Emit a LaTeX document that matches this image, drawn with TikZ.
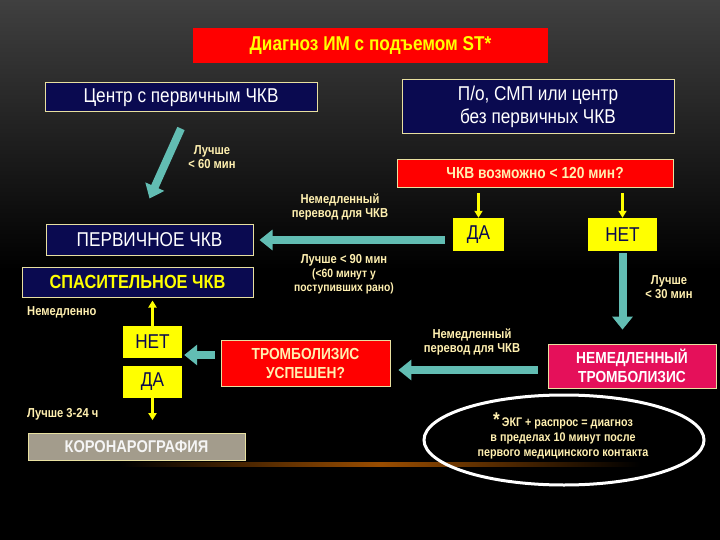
\documentclass[tikz,border=0pt]{standalone}
\usepackage{fontspec}
\setmainfont[FakeStretch=0.86]{Liberation Sans}
\usetikzlibrary{arrows.meta,shapes.geometric}
\definecolor{navy}{HTML}{0A0A50}
\definecolor{bord}{HTML}{E8E0A0}
\definecolor{tealc}{HTML}{62BDB3}
\definecolor{ylw}{HTML}{FFFF00}
\definecolor{redc}{HTML}{FF0000}
\definecolor{crim}{HTML}{E5105A}
\definecolor{cream}{HTML}{FFF0B0}
\definecolor{kcol}{HTML}{A39C8C}
\tikzset{
 bluebox/.style={draw=bord,line width=1pt,fill=navy,text=white,font=\fontsize{20}{23}\selectfont,align=center,inner sep=0pt},
 redbox/.style={draw=bord,line width=0.8pt,fill=redc,font=\bfseries\fontsize{16}{19}\selectfont,text=cream,align=center,inner sep=0pt},
 ybox/.style={fill=ylw,text=navy,font=\fontsize{20}{22}\selectfont,inner sep=0pt},
 lbl/.style={text=cream,font=\bfseries\fontsize{13}{14}\selectfont,align=center,inner sep=0pt},
 tarrow/.style={tealc,line width=8pt,-{Triangle[width=20pt,length=13pt]}},
 yarrow/.style={ylw,line width=2.5pt,-{Triangle[width=8pt,length=7pt]}},
}
\begin{document}
\begin{tikzpicture}[x=1pt,y=-1pt]
\shade[top color=black!75,bottom color=black,middle color=black] (0,0) rectangle (720,540);
\useasboundingbox (0,0) rectangle (720,540);
\shade[left color=black,right color=black,middle color=orange!60!black] (120,462) rectangle (640,466);
% title
\node[fill=redc,text=ylw,font=\bfseries\fontsize{20}{22}\selectfont,minimum width=355pt,minimum height=35pt,inner sep=0pt] (title) at (370.5,45.5) {Диагноз ИМ с подъемом ST*};
\node[bluebox,minimum width=272pt,minimum height=29pt] (c1) at (181,97.5) {Центр с первичным ЧКВ};
\node[bluebox,minimum width=272pt,minimum height=54pt] (c2) at (538,107) {П/о, СМП или центр\\без  первичных ЧКВ};
\node[redbox,minimum width=276pt,minimum height=28pt] (q) at (535,173) {ЧКВ возможно < 120 мин?};
\node[ybox,minimum width=51pt,minimum height=33pt] (da1) at (478.5,234.5) {ДА};
\node[ybox,minimum width=69pt,minimum height=33pt] (net1) at (622.5,234.5) {НЕТ};
\node[bluebox,minimum width=207pt,minimum height=30pt] (pci) at (149.5,240) {ПЕРВИЧНОЕ ЧКВ};
\node[bluebox,minimum width=231pt,minimum height=30pt,text=ylw,font=\bfseries\fontsize{19}{21}\selectfont] (spas) at (137.5,282) {СПАСИТЕЛЬНОЕ ЧКВ};
\node[ybox,minimum width=59pt,minimum height=32pt] (net2) at (152.5,342) {НЕТ};
\node[ybox,minimum width=59pt,minimum height=32pt] (da2) at (152.5,382) {ДА};
\node[draw=bord,line width=1pt,fill=kcol,text=white!92!gray,font=\bfseries\fontsize{17}{19}\selectfont,minimum width=217pt,minimum height=27pt,inner sep=0pt] (kor) at (136.5,446.5) {КОРОНАРОГРАФИЯ};
\node[redbox,minimum width=169pt,minimum height=46pt] (tr) at (305.5,363) {ТРОМБОЛИЗИС\\УСПЕШЕН?};
\node[draw=bord,line width=0.8pt,fill=crim,text=white,font=\bfseries\fontsize{16}{19}\selectfont,align=center,minimum width=168pt,minimum height=44pt,inner sep=0pt] (imm) at (632,366) {НЕМЕДЛЕННЫЙ\\ТРОМБОЛИЗИС};
\node[ellipse,draw=white,line width=3pt,minimum width=280pt,minimum height=90pt,inner sep=0pt] (ell) at (564,440) {};
% labels
\node[lbl] (l60) at (212,157) {Лучше\\< 60 мин};
\node[lbl] (lim1) at (340,207) {Немедленный\\перевод для ЧКВ};
\node[lbl] (l90) at (344,274) {Лучше < 90 мин\\{\fontsize{12}{13}\selectfont(<60 минут у}\\{\fontsize{12}{13}\selectfont поступивших рано)}};
\node[lbl] (l30) at (669,287) {Лучше\\< 30 мин};
\node[lbl,anchor=west] (nem) at (27,312) {Немедленно};
\node[lbl,anchor=west] (l324) at (27,414) {Лучше  3-24 ч};
\node[lbl] (lim2) at (472,342) {Немедленный\\перевод для ЧКВ};
\node[lbl,font=\bfseries\fontsize{12.5}{15}\selectfont] (note) at (563,436) {{\fontsize{20}{10}\selectfont*}\,ЭКГ + распрос = диагноз\\в пределах 10 минут после\\первого медицинского контакта};
% arrows
\draw[tarrow] ([yshift=-16pt]c1.south) -- ([yshift=26pt]pci.north);
\draw[yarrow] ([yshift=-6pt]q.south -| da1.north) -- (da1.north);
\draw[yarrow] ([yshift=-6pt]q.south -| net1.north) -- (net1.north);
\coordinate (y1) at (0,240);
\draw[tarrow] ([xshift=-8pt]da1.west |- y1) -- ([xshift=6pt]pci.east |- y1);
\draw[tarrow] ([yshift=-2pt]net1.south) -- ([yshift=14pt]net1.south |- imm.north);
\coordinate (y2) at (0,370);
\draw[tarrow] ([xshift=-10pt]imm.west |- y2) -- ([xshift=8pt]tr.east |- y2);
\coordinate (y3) at (0,355);
\draw[tarrow] ([xshift=-6pt]tr.west |- y3) -- ([xshift=2pt]net2.east |- y3);
\draw[yarrow] (net2.north) -- ([yshift=-3pt]net2.north |- spas.south);
\draw[yarrow] (da2.south) -- ++(0,22);
\end{tikzpicture}
\end{document}
